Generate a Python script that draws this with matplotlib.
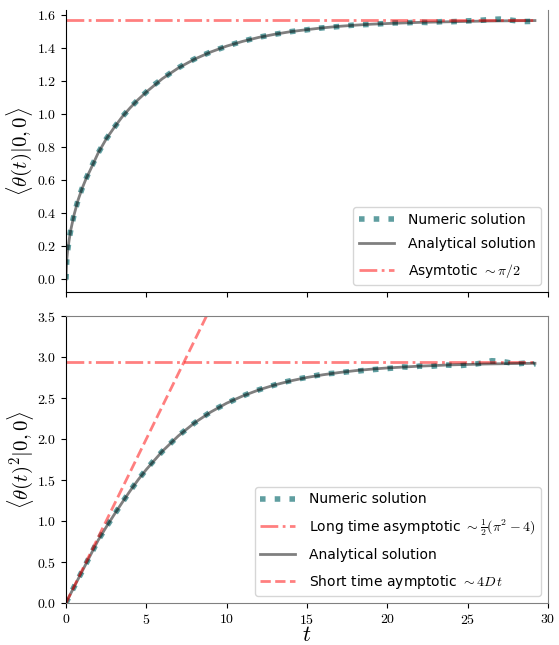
# Mean and mean-square angle for diffusion on the sphere, numeric vs analytical
import numpy as np
import matplotlib
matplotlib.use('Agg')
import matplotlib.pyplot as plt

plt.rcParams['font.family'] = 'serif'
plt.rcParams['font.serif'] = ['cmr10']
plt.rcParams['mathtext.fontset'] = 'cm'
plt.rcParams['axes.formatter.use_mathtext'] = True

# analytical solution
t_ana = [0, 0.05, 0.1, 0.2, 0.3, 0.5, 0.75, 1, 1.25, 1.5, 2, 2.5, 3, 3.5, 4, 4.5, 5,
         6, 7, 8, 9, 10, 11, 12, 13, 14, 15, 16, 17, 18, 19, 20, 22, 24, 26, 28, 29.2]
theta_ana = [0.0, 0.12, 0.17, 0.24, 0.30, 0.39, 0.48, 0.55, 0.61, 0.66, 0.765, 0.85, 0.92,
             0.985, 1.04, 1.09, 1.135, 1.216, 1.281, 1.334, 1.377, 1.413, 1.442, 1.466,
             1.485, 1.501, 1.513, 1.524, 1.533, 1.540, 1.546, 1.550, 1.557, 1.561, 1.565,
             1.567, 1.568]
theta2_ana = [0.0, 0.02, 0.04, 0.08, 0.118, 0.195, 0.29, 0.385, 0.48, 0.575, 0.765, 0.925,
              1.078, 1.226, 1.37, 1.505, 1.628, 1.851, 2.039, 2.197, 2.328, 2.437, 2.525,
              2.599, 2.660, 2.710, 2.751, 2.784, 2.811, 2.834, 2.852, 2.867, 2.889, 2.905,
              2.915, 2.921, 2.924]

# numeric solution (simulation)
t_num = [0, 0.05, 0.1, 0.2, 0.3, 0.5, 0.75, 1, 1.25, 1.5, 2, 2.5, 3, 3.5, 4, 4.5, 5, 5.5,
         6, 6.5, 7, 7.5, 8, 8.5, 9, 9.5, 10, 10.5, 11, 11.5, 12, 12.5, 13, 13.5, 14, 14.5,
         15, 15.5, 16, 16.5, 17, 17.5, 18, 18.5, 19, 19.5, 20, 20.5, 21, 21.5, 22, 22.5,
         23, 23.5, 24, 24.5, 25, 25.5, 26, 26.5, 27, 27.5, 28, 28.5, 29, 29.2]
theta_num = [0.0, 0.12, 0.17, 0.245, 0.30, 0.39, 0.48, 0.55, 0.61, 0.665, 0.765, 0.85,
             0.92, 0.985, 1.04, 1.09, 1.135, 1.18, 1.215, 1.25, 1.282, 1.31, 1.335, 1.357,
             1.377, 1.395, 1.412, 1.428, 1.442, 1.455, 1.467, 1.476, 1.485, 1.493, 1.501,
             1.507, 1.512, 1.519, 1.524, 1.528, 1.532, 1.537, 1.541, 1.543, 1.545, 1.548,
             1.551, 1.554, 1.553, 1.556, 1.558, 1.556, 1.559, 1.562, 1.561, 1.563, 1.566,
             1.568, 1.571, 1.575, 1.577, 1.573, 1.567, 1.562, 1.563, 1.565]
theta2_num = [0.0, 0.02, 0.04, 0.08, 0.12, 0.195, 0.29, 0.385, 0.48, 0.575, 0.765, 0.925,
              1.075, 1.225, 1.37, 1.505, 1.63, 1.745, 1.85, 1.945, 2.04, 2.12, 2.195,
              2.265, 2.33, 2.385, 2.435, 2.48, 2.525, 2.565, 2.6, 2.632, 2.66, 2.69,
              2.712, 2.735, 2.752, 2.772, 2.79, 2.80, 2.806, 2.82, 2.826, 2.836, 2.845,
              2.853, 2.86, 2.868, 2.88, 2.874, 2.89, 2.884, 2.892, 2.905, 2.9, 2.895,
              2.905, 2.915, 2.93, 2.955, 2.95, 2.935, 2.915, 2.925, 2.905, 2.92]

asym_theta = np.pi/2
asym_theta2 = 0.5*(np.pi**2 - 4)
D = 0.1

num_kw = dict(color='cadetblue', lw=4, ls=':')
ana_kw = dict(color='k', alpha=0.5, lw=2)
red_kw = dict(color='r', alpha=0.5, lw=2)
leg_kw = dict(loc='lower right', prop={'family': 'DejaVu Sans', 'size': 10},
              handlelength=2.5, labelspacing=0.75, handletextpad=1.0)

fig = plt.figure(figsize=(5.59, 6.45), dpi=100)
ax1 = fig.add_axes([0.118, 0.547, 0.862, 0.437])
ax2 = fig.add_axes([0.118, 0.065, 0.862, 0.445])

t_span = [t_ana[0], t_ana[-1]]

# top panel
ax1.plot(t_num, theta_num, label='Numeric solution', **num_kw)
ax1.plot(t_ana, theta_ana, label='Analytical solution', **ana_kw)
ax1.plot(t_span, [asym_theta]*2, ls='-.', label=r'Asymtotic $\sim\pi/2$', **red_kw)
ax1.set_xlim(0, 30)
ax1.set_ylim(-0.077, 1.63)
ax1.set_xticks([0, 5, 10, 15, 20, 25, 30])
ax1.set_xticklabels([])
ax1.set_yticks([0.0, 0.2, 0.4, 0.6, 0.8, 1.0, 1.2, 1.4, 1.6])
ax1.set_ylabel(r'$\langle\theta(t)|0,0\rangle$', fontsize=15, labelpad=1)
ax1.spines['top'].set_visible(False)
ax1.spines['right'].set_color('gray')
ax1.legend(**leg_kw)

# bottom panel
ax2.plot(t_num, theta2_num, label='Numeric solution', **num_kw)
ax2.plot(t_span, [asym_theta2]*2, ls='-.',
         label=r'Long time asymptotic $\sim\frac{1}{2}(\pi^2-4)$', **red_kw)
ax2.plot(t_ana, theta2_ana, label='Analytical solution', **ana_kw)
ax2.plot(t_ana, 4*D*np.array(t_ana), ls='--',
         label=r'Short time aymptotic $\sim 4D\,t$', **red_kw)
ax2.set_xlim(0, 30)
ax2.set_ylim(0, 3.5)
ax2.set_xticks([0, 5, 10, 15, 20, 25, 30])
ax2.set_ylabel(r'$\langle\theta(t)^2|0,0\rangle$', fontsize=15, labelpad=1)
ax2.set_xlabel(r'$t$', fontsize=16, labelpad=-1)
for s in ['top', 'right', 'bottom']:
    ax2.spines[s].set_color('gray')
ax2.legend(**leg_kw)

for ax in [ax1, ax2]:
    ax.tick_params(labelsize=10, colors='k')

fig.savefig('out.png', dpi=100)
